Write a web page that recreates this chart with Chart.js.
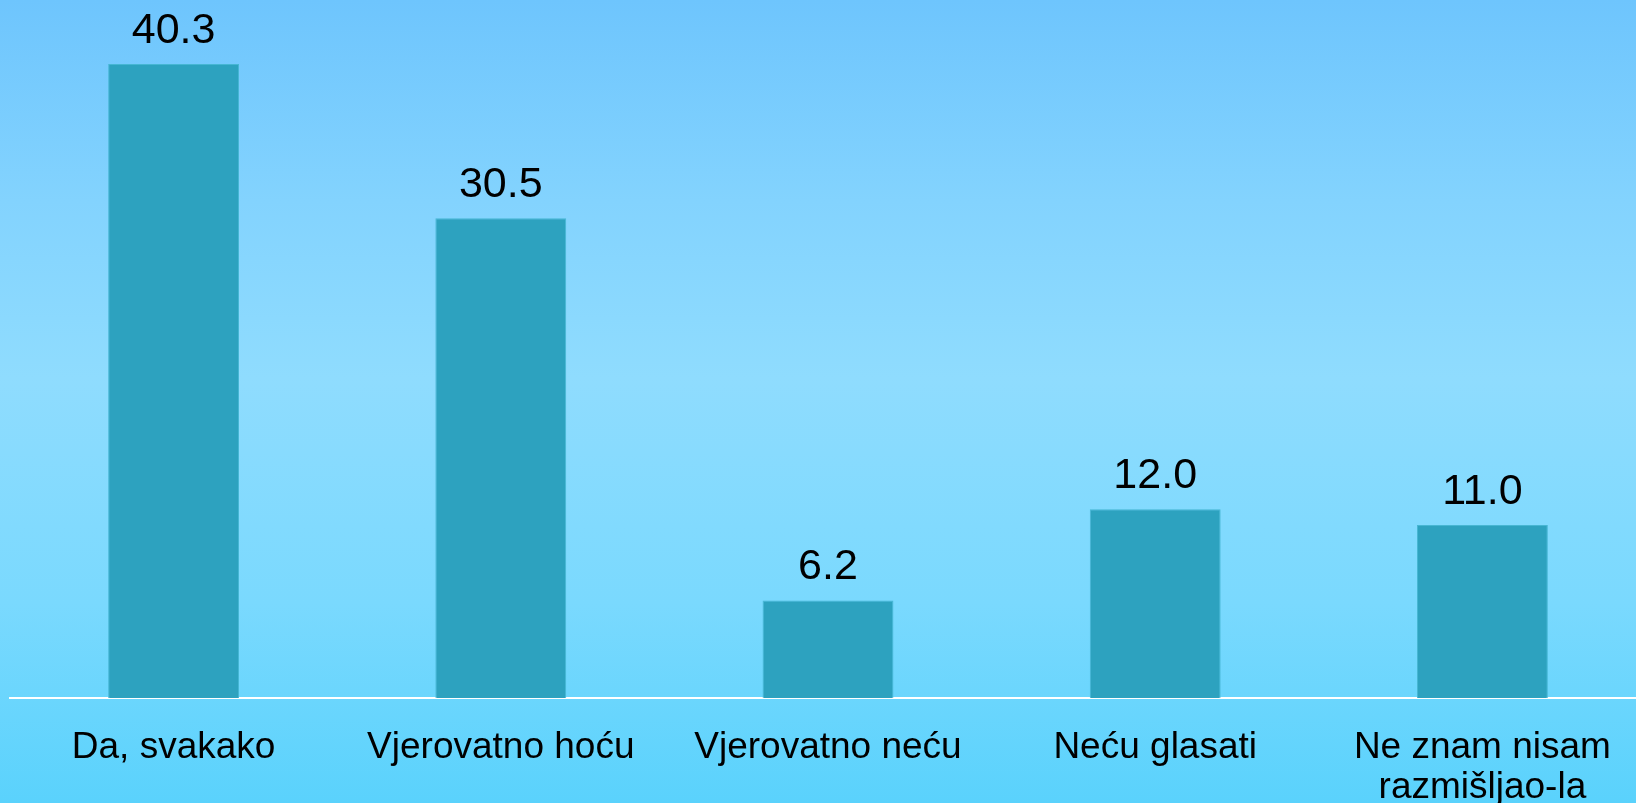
<!DOCTYPE html>
<html>
<head>
<meta charset="utf-8">
<script src="https://cdn.jsdelivr.net/npm/chart.js@4.4.1/dist/chart.umd.min.js"></script>
<style>
  html, body { margin: 0; padding: 0; width: 1636px; height: 803px; overflow: hidden; }
  body {
    background: linear-gradient(to bottom, #6ec5fd 0%, #83d3fe 25%, #8fdcfe 47%, #7ad9fe 75%, #5ad2fc 100%);
  }
  #wrap { position: absolute; left: 0; top: 0; width: 1646px; height: 803px; }
</style>
</head>
<body>
<div id="wrap"><canvas id="c"></canvas></div>
<script>
const categories = ["Da, svakako", "Vjerovatno hoću", "Vjerovatno neću", "Neću glasati", ["Ne znam nisam", "razmišljao-la"]];
const values = [40.3, 30.5, 6.2, 12.0, 11.0];
const yMax = 44.37;

const FONT = "'Liberation Sans', Arial, sans-serif";

const valueLabels = {
  id: 'valueLabels',
  afterDatasetsDraw(chart) {
    const ctx = chart.ctx;
    const meta = chart.getDatasetMeta(0);
    ctx.save();
    ctx.font = "43px " + FONT;
    ctx.fillStyle = "#000";
    ctx.textAlign = "center";
    ctx.textBaseline = "alphabetic";
    meta.data.forEach((bar, i) => {
      ctx.fillText(values[i].toFixed(1), bar.x, bar.y - 21);
    });
    ctx.restore();
  }
};

new Chart(document.getElementById('c'), {
  type: 'bar',
  data: {
    labels: categories,
    datasets: [{
      data: values,
      backgroundColor: '#2da2bf',
      borderColor: '#46b6d3',
      borderWidth: 1,
      categoryPercentage: 1.0,
      barPercentage: 0.4
    }]
  },
  options: {
    responsive: true,
    maintainAspectRatio: false,
    animation: false,
    layout: { padding: { left: 10, right: 0, top: 0, bottom: 0 } },
    plugins: { legend: { display: false }, tooltip: { enabled: false } },
    scales: {
      y: { display: false, min: 0, max: yMax },
      x: {
        grid: { display: false, drawTicks: false },
        border: { display: true, color: '#ffffff', width: 2 },
        ticks: {
          color: '#000',
          font: { family: FONT, size: 37, lineHeight: 1.1 },
          padding: 29,
          maxRotation: 0,
          autoSkip: false
        },
        afterFit: (scale) => { scale.height = 105; }
      }
    }
  },
  plugins: [valueLabels]
});
</script>
</body>
</html>
